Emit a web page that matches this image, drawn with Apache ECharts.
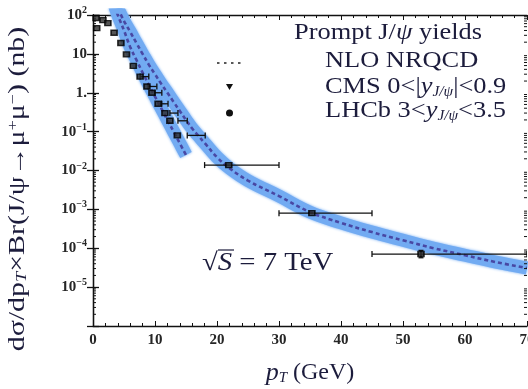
<!DOCTYPE html>
<html><head><meta charset="utf-8">
<script src="https://cdn.jsdelivr.net/npm/echarts@6/dist/echarts.min.js"></script>
<style>html,body{margin:0;padding:0;background:#fff}#c{width:528px;height:389px}</style>
</head><body><div id="c"></div>
<script>
// ---- data ----
const xTicks = [0, 10, 20, 30, 40, 50, 60, 70];
const yTickExp = [-6, -5, -4, -3, -2, -1, 0, 1, 2];
const yTickLabels = ['', '10{s|−5}', '10{s|−4}', '10{s|−3}', '10{s|−2}', '10{s|−1}', '1.', '10', '10{s|2}'];

// NLO NRQCD band (LHCb rapidity, steep one)
const lhcbBandPt  = [3.5, 4, 5, 6, 7, 8, 9, 10, 11, 12, 13, 14, 15];
const lhcbBandMid = [170, 100, 40, 15, 7.0, 3.3, 1.6, 0.8, 0.4, 0.2, 0.1, 0.05, 0.025];

// NLO NRQCD band (CMS rapidity)
const cmsBandPt  = [4.0, 5, 6, 7, 8, 9, 10, 11, 12, 13, 14, 15, 16, 17, 18, 20, 22, 25, 30, 35, 40, 45, 50, 55, 60, 65, 70];
const cmsBandMid = [150, 70, 37, 19, 10, 5.3, 3.0, 1.7, 1.0, 0.58, 0.34, 0.2, 0.12, 0.078, 0.051, 0.022, 0.0115, 0.0055, 0.0022, 8.5e-4, 4.5e-4, 2.6e-4, 1.6e-4, 1.0e-4, 6.6e-5, 4.4e-5, 3.1e-5];

// LHCb 3<y<3.5 points
const lhcbPt  = [0.5, 0.6, 1.6, 2.4, 3.4, 4.5, 5.4, 6.5];
const lhcbVal = [84, 46, 74, 62, 35, 19, 9.7, 4.9];

// CMS 0<|y|<0.9 points with pT bins
const cmsPt  = [7.6, 8.7, 9.5, 10.5, 11.6, 12.4, 13.6, 21.9, 35.3, 52.9];
const cmsVal = [2.6, 1.45, 1.0, 0.52, 0.3, 0.19, 0.08, 0.0138, 8.0e-4, 7.1e-5];
const cmsLo  = [7.6, 8.9, 10.0, 11.1, 12.4, 13.7, 15.2, 18, 30, 45];
const cmsHi  = [9.0, 10.3, 11.1, 12.1, 13.7, 15.2, 18.1, 30, 45, 70];
const cmsYLo = [null, null, null, null, null, null, null, null, null, 5.7e-5];
const cmsYHi = [null, null, null, null, null, null, null, null, null, 8.8e-5];

// ---- build ----
const FONT = 'Liberation Serif';
const zip = (a, b) => a.map((v, i) => [v, b[i]]);
const minorVals = [];
for (let i = 0; i < yTickExp.length - 1; i++) {
  for (let k = 2; k <= 9; k++) minorVals.push([0, k * Math.pow(10, yTickExp[i])]);
}
const labelMap = {};
yTickExp.forEach((e, i) => labelMap[e] = yTickLabels[i]);

const chart = echarts.init(document.getElementById('c'), null, {renderer: 'canvas'});
const bandColor = '#72abf2';
const dashColor = '#4848a4';
const TXT = '#1c1c3c';

const tickLabelStyle = {
  fontFamily: FONT, fontWeight: 'bold', fontSize: 15, color: '#262626',
  rich: { s: { fontFamily: FONT, fontWeight: 'bold', fontSize: 10, color: '#262626', padding: [0, 0, 9, 0] } }
};

const option = {
  animation: false,
  backgroundColor: '#fff',
  grid: { left: 93, right: 1, top: 15, bottom: 63, containLabel: false, outerBoundsMode: 'none' },
  xAxis: [{
    type: 'value', min: xTicks[0], max: xTicks[xTicks.length - 1], interval: 10,
    axisLine: { lineStyle: { color: '#111', width: 1.3 } },
    axisTick: { inside: true, length: 5, lineStyle: { color: '#111' } },
    minorTick: { show: true, splitNumber: 5, length: 3, lineStyle: { color: '#111' } },
    splitLine: { show: false },
    axisLabel: Object.assign({ margin: 7, hideOverlap: false }, tickLabelStyle),
    name: '{i|p}{sub|T} (GeV)', nameLocation: 'middle', nameGap: 34,
    nameTextStyle: { fontFamily: FONT, fontSize: 24, color: TXT,
      rich: { i: { fontFamily: FONT, fontStyle: 'italic', fontSize: 26, color: TXT },
              sub: { fontFamily: FONT, fontStyle: 'italic', fontSize: 15, color: TXT, padding: [10, 0, 0, 0] } } }
  }, {
    type: 'value', position: 'top', min: 0, max: 70, interval: 10,
    axisLine: { lineStyle: { color: '#111', width: 1.3 } },
    axisTick: { inside: true, length: 5, lineStyle: { color: '#111' } },
    minorTick: { show: true, splitNumber: 5, length: 3, lineStyle: { color: '#111' } },
    splitLine: { show: false }, axisLabel: { show: false }
  }],
  yAxis: [{
    type: 'log', logBase: 10, min: 1e-6, max: 100, splitNumber: 8,
    axisLine: { show: true, lineStyle: { color: '#111', width: 1.3 } },
    axisTick: { show: true, inside: true, length: 6, lineStyle: { color: '#111', width: 1.3 } },
    splitLine: { show: false },
    axisLabel: Object.assign({ margin: 6, formatter: v => {
      const e = Math.round(Math.log10(v));
      return labelMap[e] !== undefined ? labelMap[e] : '';
    } }, tickLabelStyle)
  }, {
    type: 'log', logBase: 10, min: 1e-6, max: 100, splitNumber: 8, position: 'right',
    axisLine: { show: true, lineStyle: { color: '#111', width: 1.3 } },
    axisTick: { show: true, inside: true, length: 6, lineStyle: { color: '#111', width: 1.3 } },
    splitLine: { show: false }, axisLabel: { show: false }
  }],
  series: [
    { type: 'line', data: zip(cmsBandPt, cmsBandMid), smooth: 0.4, symbol: 'none', silent: true, z: 1,
      lineStyle: { width: 13, color: bandColor, cap: 'butt', shadowBlur: 3, shadowColor: bandColor } },
    { type: 'line', data: zip(lhcbBandPt, lhcbBandMid), smooth: 0.4, symbol: 'none', silent: true, z: 1,
      lineStyle: { width: 13, color: bandColor, cap: 'butt', shadowBlur: 3, shadowColor: bandColor } },
    { type: 'line', data: zip(cmsBandPt, cmsBandMid), smooth: 0.4, symbol: 'none', silent: true, z: 2,
      lineStyle: { width: 2.6, color: dashColor, type: [4, 3] } },
    { type: 'line', data: zip(lhcbBandPt, lhcbBandMid), smooth: 0.4, symbol: 'none', silent: true, z: 2,
      lineStyle: { width: 2.6, color: dashColor, type: [4, 3] } },
    { type: 'custom', z: 3, clip: true, silent: true,
      data: cmsPt.map((p, i) => [p, cmsVal[i], cmsLo[i], cmsHi[i], cmsYLo[i], cmsYHi[i]]),
      renderItem: (params, api) => {
        const y = api.value(1);
        const a = api.coord([api.value(2), y]);
        const b = api.coord([api.value(3), y]);
        const st = { stroke: '#111', lineWidth: 1.3 };
        const ch = [
          { type: 'line', shape: { x1: a[0], y1: a[1], x2: b[0], y2: b[1] }, style: st },
          { type: 'line', shape: { x1: a[0], y1: a[1] - 3, x2: a[0], y2: a[1] + 3 }, style: st },
          { type: 'line', shape: { x1: b[0], y1: b[1] - 3, x2: b[0], y2: b[1] + 3 }, style: st }
        ];
        const ylo = api.value(4), yhi = api.value(5);
        if (ylo && yhi && !isNaN(ylo) && !isNaN(yhi)) {
          const p1 = api.coord([api.value(0), ylo]);
          const p2 = api.coord([api.value(0), yhi]);
          ch.push({ type: 'line', shape: { x1: p1[0], y1: p1[1], x2: p2[0], y2: p2[1] }, style: st });
          ch.push({ type: 'line', shape: { x1: p1[0] - 2.5, y1: p1[1], x2: p1[0] + 2.5, y2: p1[1] }, style: st });
          ch.push({ type: 'line', shape: { x1: p2[0] - 2.5, y1: p2[1], x2: p2[0] + 2.5, y2: p2[1] }, style: st });
        }
        return { type: 'group', children: ch };
      } },
    { type: 'scatter', z: 4, silent: true, data: zip(cmsPt, cmsVal), symbol: 'rect', symbolSize: [6, 5],
      itemStyle: { color: '#2a2a2a', borderColor: '#000', borderWidth: 1.5 } },
    { type: 'scatter', z: 4, silent: true, data: zip(lhcbPt, lhcbVal), symbol: 'rect', symbolSize: [6, 5],
      itemStyle: { color: '#2a2a2a', borderColor: '#000', borderWidth: 1.5 } },
    { type: 'custom', z: 3, silent: true, data: minorVals,
      renderItem: (params, api) => {
        const l = api.coord([0, api.value(1)]);
        const r = api.coord([70, api.value(1)]);
        const st = { stroke: '#111', lineWidth: 1 };
        return { type: 'group', children: [
          { type: 'line', shape: { x1: l[0], y1: l[1], x2: l[0] + 3, y2: l[1] }, style: st },
          { type: 'line', shape: { x1: r[0] - 3, y1: r[1], x2: r[0], y2: r[1] }, style: st }
        ] };
      } }
  ],
  graphic: [
    { type: 'text', x: 18, y: 189, rotation: Math.PI / 2, scaleX: 1.3,
      style: { text: 'dσ/dp{sub|T}×Br(J/ψ→μ{sup|+}μ{sup|−}) (nb)', fontFamily: FONT, fontSize: 23, fill: TXT,
        align: 'center', verticalAlign: 'middle',
        rich: { sub: { fontFamily: FONT, fontStyle: 'italic', fontSize: 14, fill: TXT, padding: [9, 0, 0, 0] },
                sup: { fontFamily: FONT, fontSize: 14, fill: TXT, padding: [0, 0, 10, 0] } } } },
    { type: 'text', x: 294, y: 33, scaleX: 1.1,
      style: { text: 'Prompt J/{i|ψ} yields', fontFamily: FONT, fontSize: 24, fill: TXT, verticalAlign: 'middle',
        rich: { i: { fontFamily: FONT, fontStyle: 'italic', fontSize: 24, fill: TXT } } } },
    { type: 'text', x: 325, y: 61, scaleX: 1.1,
      style: { text: 'NLO NRQCD', fontFamily: FONT, fontSize: 24, fill: TXT, verticalAlign: 'middle' } },
    { type: 'text', x: 325, y: 87, scaleX: 1.1,
      style: { text: 'CMS 0<|{i|y}{sub|J/ψ}|<0.9', fontFamily: FONT, fontSize: 24, fill: TXT, verticalAlign: 'middle',
        rich: { i: { fontFamily: FONT, fontStyle: 'italic', fontSize: 24, fill: TXT },
                sub: { fontFamily: FONT, fontStyle: 'italic', fontSize: 14, fill: TXT, padding: [10, 0, 0, 0] } } } },
    { type: 'text', x: 325, y: 111, scaleX: 1.1,
      style: { text: 'LHCb 3<{i|y}{sub|J/ψ}<3.5', fontFamily: FONT, fontSize: 24, fill: TXT, verticalAlign: 'middle',
        rich: { i: { fontFamily: FONT, fontStyle: 'italic', fontSize: 24, fill: TXT },
                sub: { fontFamily: FONT, fontStyle: 'italic', fontSize: 14, fill: TXT, padding: [10, 0, 0, 0] } } } },
    { type: 'line', shape: { x1: 217, y1: 63, x2: 244, y2: 63 }, style: { stroke: '#222', lineWidth: 1.5, lineDash: [2.5, 4.5] } },
    { type: 'polygon', shape: { points: [[226, 84], [233, 84], [229.5, 90]] }, style: { fill: '#111' } },
    { type: 'circle', shape: { cx: 229.5, cy: 113, r: 3.5 }, style: { fill: '#111' } },
    { type: 'text', x: 202, y: 263, scaleX: 1.15,
      style: { text: '√{i|S} = 7 TeV', fontFamily: FONT, fontSize: 25, fill: TXT, verticalAlign: 'middle',
        rich: { i: { fontFamily: FONT, fontStyle: 'italic', fontSize: 25, fill: TXT } } } },
    { type: 'line', shape: { x1: 218, y1: 250, x2: 234, y2: 250 }, style: { stroke: TXT, lineWidth: 1.2 } }
  ]
};
chart.setOption(option);
</script>
</body></html>
